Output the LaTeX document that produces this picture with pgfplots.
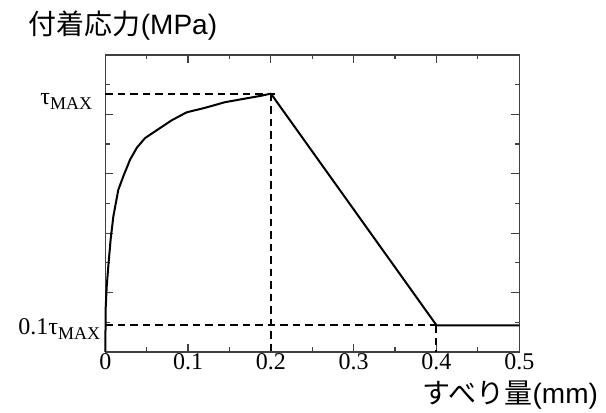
\documentclass[border=0pt]{standalone}
\usepackage{pgfplots}
\pgfplotsset{compat=1.18}
\usepackage{fontspec}
\setmainfont{Liberation Serif}
\setsansfont{Liberation Sans}
\newfontfamily\jp{Noto Sans CJK JP}
\begin{document}
\begin{tikzpicture}
\begin{axis}[
  scale only axis, width=414pt, height=297pt,
  xmin=0, xmax=0.5, ymin=0, ymax=10,
  xtick={0,0.1,0.2,0.3,0.4,0.5},
  xticklabels={0,0.1,0.2,0.3,0.4,0.5},
  minor xtick={0.05,0.15,0.25,0.35,0.45},
  ytick={2,4,6,8}, minor ytick={1,3,5,7,9}, yticklabels={},
  tick align=inside,
  major tick length=8pt, minor tick length=4.5pt,
  axis line style={black!75, line width=1.2pt},
  tick style={black!75, line width=1.2pt},
  xticklabel style={font=\fontsize{24}{24}\selectfont, inner sep=1pt},
  /pgf/number format/assume math mode=true,
  clip=false,
]
\addplot[black, line width=2pt, line join=round] coordinates {(0,0) (0.0005,1.5) (0.0017,2.2) (0.0036,2.88) (0.0065,3.8) (0.0097,4.56) (0.0157,5.46) (0.0217,5.91) (0.0298,6.47) (0.0379,6.87) (0.0479,7.20) (0.0639,7.50) (0.0801,7.80) (0.0982,8.07) (0.1203,8.22) (0.1444,8.41) (0.1685,8.53) (0.1887,8.63) (0.2,8.7)};
\addplot[black, line width=2pt, line join=round] coordinates {(0.2,8.7) (0.4,0.9) (0.5,0.9)};
\addplot[black, line width=2pt, dash pattern=on 7.5pt off 5pt] coordinates {(0,8.7) (0.2085,8.7)};
\addplot[black, line width=2pt, dash pattern=on 7.5pt off 5pt] coordinates {(0.2,8.7) (0.2,0)};
\addplot[black, line width=2pt, dash pattern=on 7.5pt off 5pt] coordinates {(0,0.9) (0.4,0.9)};
\addplot[black, line width=2pt, dash pattern=on 7.5pt off 5pt] coordinates {(0.4,0.9) (0.4,0)};
\node[anchor=base east, inner sep=0pt, xshift=-13pt, yshift=-11pt] at (axis cs:0,8.7) {\fontsize{24}{24}\selectfont τ\raisebox{-5pt}{\fontsize{18}{18}\selectfont MAX}};
\node[anchor=base east, inner sep=0pt, xshift=-5pt, yshift=-9pt] at (axis cs:0,0.9) {\fontsize{24}{24}\selectfont 0.1τ\raisebox{-5pt}{\fontsize{18}{18}\selectfont MAX}};
\end{axis}
\node at (17.7pt,326pt) {\fontsize{28}{28}\selectfont\jp 付着応力\sffamily(MPa)};
\node at (405pt,-43pt) {\fontsize{28}{28}\selectfont\jp すべり量\sffamily(mm)};
\path[use as bounding box] (-105.3pt,-60pt) rectangle (500.7pt,352pt);
\end{tikzpicture}
\end{document}
